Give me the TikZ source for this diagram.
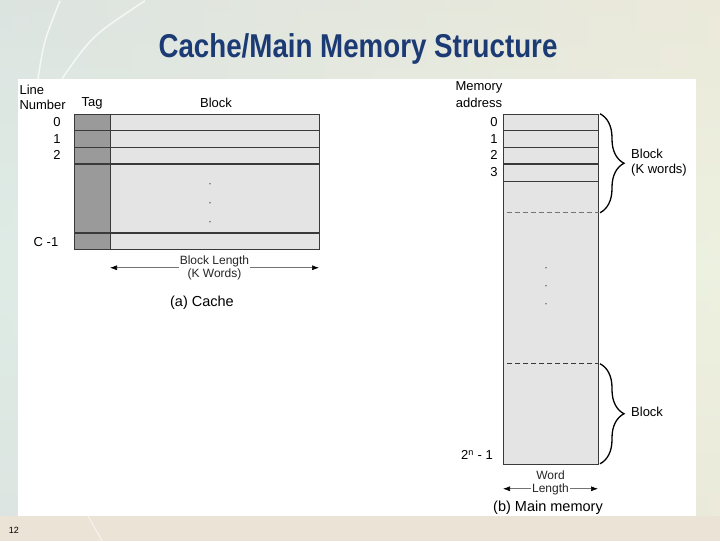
\documentclass[tikz,border=0pt]{standalone}
\usepackage{fontspec}
\setmainfont{Liberation Sans}
\newfontfamily\titlefont{Liberation Sans}[FakeStretch=0.84]
\usetikzlibrary{arrows.meta,decorations.pathreplacing}
\definecolor{cTitle}{HTML}{1C3B74}
\definecolor{cTag}{HTML}{9A9A9A}
\definecolor{cCell}{HTML}{E4E4E4}
\definecolor{cLine}{HTML}{3A3A3A}
\definecolor{cBgA}{HTML}{CFE6EC}
\definecolor{cBgB}{HTML}{EDF1E0}
\definecolor{cBgC}{HTML}{EAE3D6}

\begin{document}
\begin{tikzpicture}[x=1pt, y=-1pt, font=\fontsize{13}{15}\selectfont,
  cell/.style={draw=cLine, fill=cCell, anchor=north west, inner sep=0pt, line width=0.7pt},
  tagcell/.style={cell, fill=cTag, minimum width=36pt},
  dot/.style={circle, fill=black!55, inner sep=0pt, minimum size=1.6pt},
  dim/.style={black!55, line width=0.6pt, {Latex[length=7pt,width=5pt,black]}-{Latex[length=7pt,width=5pt,black]}},
  dimlab/.style={fill=white, text=black!85, align=center, inner sep=1pt, font=\fontsize{12}{13}\selectfont},
  brc/.style={decorate, decoration={brace, amplitude=24pt}, line width=1.3pt}]
  % slide background
  \shade[left color=cBgA, right color=cBgB] (0,0) rectangle (720,540);
  \shade[top color=cBgC, bottom color=cBgC, middle color=cBgB, opacity=0.5] (0,0) rectangle (720,540);
  \fill[cBgC] (0,515) rectangle (720,540);
  \draw[white, line width=1.5pt, opacity=0.7] (38,78) .. controls (44,40) .. (60,0);
  \draw[white, line width=1.5pt, opacity=0.7] (62,78) .. controls (92,35) .. (145,0);
  \draw[white, line width=1pt, opacity=0.6] (88,515) -- (102,540);
  \fill[white] (18,78) rectangle (696,515);
  \node[text=cTitle, font=\titlefont\bfseries\fontsize{33}{35}\selectfont] (title) at (358,48) {Cache/Main Memory Structure};
  \node[font=\fontsize{9}{10}\selectfont] (pgno) at (14,530) {12};

  % (a) cache
  \foreach \n/\y/\h in {0/113/16,1/129/17,2/146/17,3/163/69,4/232/16} {
    \node[tagcell, minimum height=\h pt] (tag\n) at (74,\y) {};
    \node[cell, minimum width=209pt, minimum height=\h pt] (blk\n) at (110,\y) {};}
  \foreach \n in {3,4} \draw[cLine, line width=1.3pt] (tag\n.north west) -- (blk\n.north east);
  \node[anchor=west] (lineL) at (16,89) {Line};
  \node[anchor=west] (numL) at (16,104) {Number};
  \node (tagL) at (92,103) {Tag};
  \node (blockL) at (216,102) {Block};
  \foreach \n/\y in {0/121,1/138,2/154} \node (cn\n) at (57,\y) {\n};
  \node (cnC) at (46,241) {C -1};
  \foreach \y in {183,202,221} \node[dot] at (210,\y) {};
  \coordinate (blA) at (110,267);
  \coordinate (blB) at (319,267);
  \draw[dim] (blA) -- (blB) node[dimlab, midway] {Block Length\\(K Words)};
  \node[font=\fontsize{14.5}{16}\selectfont] (capA) at (202,302) {(a) Cache};

  % (b) main memory
  \foreach \n/\y/\h in {0/113/16,1/129/17,2/146/17,3/163/17,4/180/283}
    \node[cell, minimum width=95pt, minimum height=\h pt] (mem\n) at (503,\y) {};
  \draw[cLine, line width=1.3pt] (mem3.north west) -- (mem3.north east);
  \draw[black!55, dashed, dash pattern=on 5pt off 3pt, line width=0.9pt] (507,212) -- (mem4.east |- 0,212);
  \draw[cLine, dashed, dash pattern=on 5pt off 3pt, line width=0.7pt] (507,363) -- (mem4.east |- 0,363);
  \node (memL) at (479,87) {Memory};
  \node (addrL) at (479,102) {address};
  \foreach \n/\y in {0/121,1/138,2/154,3/171} \node (mn\n) at (494,\y) {\n};
  \node (mnN) at (477,454) {2\textsuperscript{n} - 1};
  \foreach \y in {267,285,303} \node[dot] at (546,\y) {};
  \draw[brc] (600,113) -- (600,212) coordinate[midway] (brA);
  \draw[brc] (600,363) -- (600,463) coordinate[midway] (brB);
  \node[anchor=west, align=left, inner sep=1pt] (blkK) at (630,162) {Block\\(K words)};
  \node[anchor=west, inner sep=1pt] (blkB) at (630,411) {Block};
  \coordinate (wlA) at (503,488);
  \coordinate (wlB) at (598,488);
  \draw[dim] (wlA) -- (wlB) node[dimlab, midway, yshift=6pt] {Word\\Length};
  \node[font=\fontsize{14.5}{16}\selectfont] (capB) at (548,507) {(b) Main memory};
\end{tikzpicture}
\end{document}
